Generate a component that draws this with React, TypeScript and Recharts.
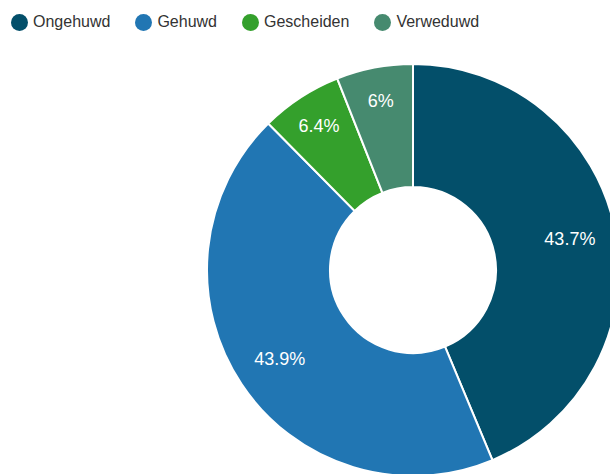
import React from "react";
import { PieChart, Pie, Cell } from "recharts";

const categories = ["Ongehuwd", "Gehuwd", "Gescheiden", "Verweduwd"];
const values = [43.7, 43.9, 6.4, 6];
const colors = ["#034f6a", "#2176b3", "#34a02c", "#468a6f"];

const data = categories.map((name, i) => ({ name, value: values[i] }));

const RAD = Math.PI / 180;

const renderLabel = (props: any) => {
  const { cx, cy, midAngle, value, percent } = props;
  const r = 174 - 32 * percent;
  const x = cx + r * Math.cos(-midAngle * RAD);
  const y = cy + r * Math.sin(-midAngle * RAD);
  return (
    <text
      x={x}
      y={y}
      fill="#ffffff"
      textAnchor="middle"
      dominantBaseline="central"
      fontSize={18}
      fontFamily="'Liberation Sans', Arial, sans-serif"
    >
      {`${value}%`}
    </text>
  );
};

export default function App() {
  return (
    <div
      style={{
        position: "fixed",
        left: 0,
        top: 0,
        width: 610,
        height: 474,
        background: "#fff",
        overflow: "hidden",
      }}
    >
      <PieChart width={610} height={474} margin={{ top: 0, right: 0, bottom: 0, left: 0 }}>
        <Pie
          data={data}
          dataKey="value"
          nameKey="name"
          cx={413}
          cy={270}
          innerRadius={83}
          outerRadius={206}
          startAngle={90}
          endAngle={-270}
          stroke="#ffffff"
          strokeWidth={2}
          label={renderLabel}
          labelLine={false}
          isAnimationActive={false}
        >
          {data.map((d, i) => (
            <Cell key={d.name} fill={colors[i]} />
          ))}
        </Pie>
      </PieChart>
      <div
        style={{
          position: "absolute",
          left: 11,
          top: 13,
          display: "flex",
          alignItems: "center",
          fontFamily: "'Liberation Sans', Arial, sans-serif",
          fontSize: 16,
          color: "#333",
          whiteSpace: "nowrap",
        }}
      >
        {categories.map((c, i) => (
          <div key={c} style={{ display: "flex", alignItems: "center", marginRight: 25 }}>
            <span
              style={{
                display: "inline-block",
                width: 17,
                height: 17,
                borderRadius: "50%",
                background: colors[i],
                marginRight: 5,
              }}
            />
            <span>{c}</span>
          </div>
        ))}
      </div>
    </div>
  );
}
